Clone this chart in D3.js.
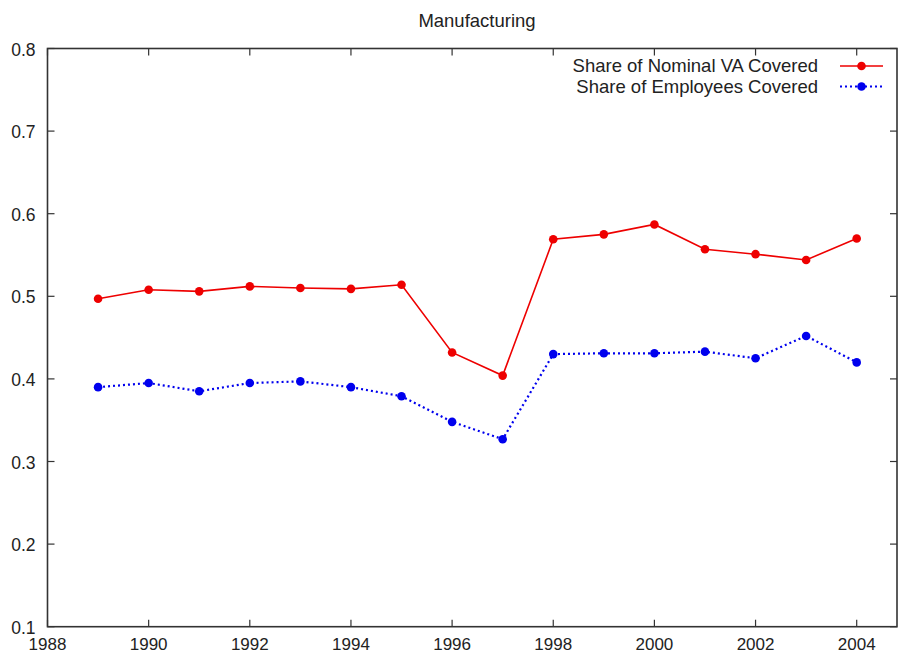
<!DOCTYPE html>
<html><head><meta charset="utf-8">
<script src="https://cdn.jsdelivr.net/npm/d3@7"></script>
<style>body{margin:0;background:#fff}svg{display:block;font-family:"Liberation Sans",Arial,sans-serif}</style>
</head><body><svg id="c" width="898" height="654"></svg>
<script>
const years = [1989,1990,1991,1992,1993,1994,1995,1996,1997,1998,1999,2000,2001,2002,2003,2004];
const nominalVA = [0.497,0.508,0.506,0.512,0.510,0.509,0.514,0.432,0.404,0.569,0.575,0.587,0.557,0.551,0.544,0.570];
const employees = [0.390,0.395,0.385,0.395,0.397,0.390,0.379,0.348,0.327,0.430,0.431,0.431,0.433,0.425,0.452,0.420];
const xTicks = [1988,1990,1992,1994,1996,1998,2000,2002,2004];
const yTicks = [0.1,0.2,0.3,0.4,0.5,0.6,0.7,0.8];
const seriesNames = ["Share of Nominal VA Covered","Share of Employees Covered"];

const svg = d3.select("#c");
const L=47.5, R=897, T=48.5, B=626.7;
const x = d3.scaleLinear().domain([1988,2004]).range([L,856.7]);
const y = d3.scaleLinear().domain([0.1,0.8]).range([B,T]);
const frame="#333";

const tk=7;
xTicks.forEach(v=>{
  svg.append("line").attr("x1",x(v)).attr("x2",x(v)).attr("y1",B).attr("y2",B-tk).attr("stroke",frame).attr("stroke-width",1.2);
  svg.append("line").attr("x1",x(v)).attr("x2",x(v)).attr("y1",T).attr("y2",T+tk).attr("stroke",frame).attr("stroke-width",1.2);
  svg.append("text").attr("x",x(v)).attr("y",650).attr("text-anchor","middle").attr("font-size",17).attr("fill","#222").text(v);
});
yTicks.forEach(v=>{
  svg.append("line").attr("x1",L).attr("x2",L+tk).attr("y1",y(v)).attr("y2",y(v)).attr("stroke",frame).attr("stroke-width",1.2);
  svg.append("line").attr("x1",R).attr("x2",R-tk).attr("y1",y(v)).attr("y2",y(v)).attr("stroke",frame).attr("stroke-width",1.2);
  svg.append("text").attr("x",35.5).attr("y",y(v)+7).attr("text-anchor","end").attr("font-size",17.5).attr("fill","#222").text(d3.format(".1f")(v));
});
svg.append("rect").attr("x",L).attr("y",T).attr("width",R-L).attr("height",B-T).attr("fill","none").attr("stroke",frame).attr("stroke-width",1.6);

svg.append("text").attr("x",477).attr("y",26.5).attr("text-anchor","middle").attr("font-size",18.5).attr("fill","#222").text("Manufacturing");

const line = d3.line().x((d,i)=>x(years[i])).y(d=>y(d));
function drawSeries(vals,color,dash){
  svg.append("path").datum(vals).attr("d",line).attr("fill","none").attr("stroke",color).attr("stroke-width",dash?2.2:1.6).attr("stroke-dasharray",dash||null);
  svg.selectAll(null).data(vals).enter().append("circle").attr("cx",(d,i)=>x(years[i])).attr("cy",d=>y(d)).attr("r",4.3).attr("fill",color);
}
drawSeries(nominalVA,"#ee0000",null);
drawSeries(employees,"#0000ee","2,3");

const leg=[{c:"#ee0000",d:null},{c:"#0000ee",d:"2,3"}];
leg.forEach((s,i)=>{
  const yy=66+i*20.5;
  svg.append("text").attr("x",818).attr("y",yy+6).attr("text-anchor","end").attr("font-size",18.5).attr("fill","#222").text(seriesNames[i]);
  svg.append("line").attr("x1",840).attr("x2",883).attr("y1",yy).attr("y2",yy).attr("stroke",s.c).attr("stroke-width",s.d?2.2:1.6).attr("stroke-dasharray",s.d);
  svg.append("circle").attr("cx",861.5).attr("cy",yy).attr("r",4.3).attr("fill",s.c);
});
</script></body></html>
